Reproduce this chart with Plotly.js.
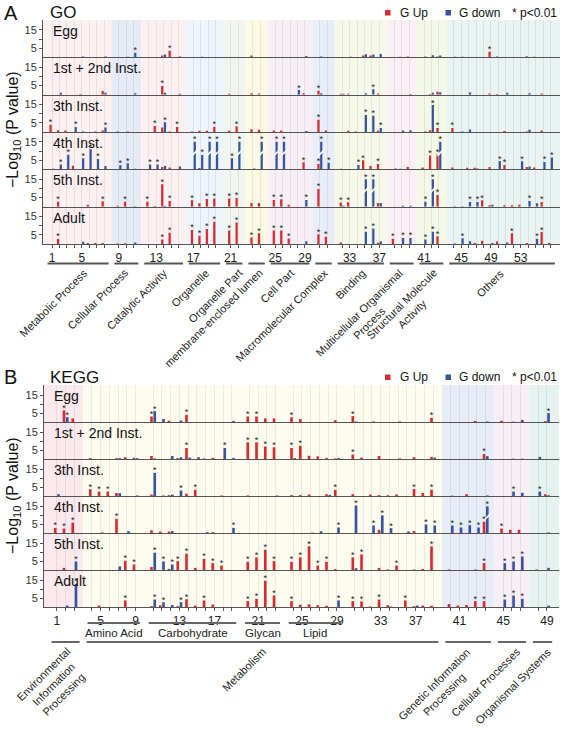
<!DOCTYPE html>
<html><head><meta charset="utf-8">
<script src="https://cdn.plot.ly/plotly-3.0.1.min.js"></script>
<style>html,body{margin:0;padding:0;background:#fff}#chart{width:563px;height:729px}</style>
</head><body><div id="chart"></div>
<script>
// ================= DATA =================
const stages = ['Egg', '1st + 2nd Inst.', '3th Inst.', '4th Inst.', '5th Inst.', 'Adult'];

// ---- GO ----
const goGroupNames = ['Metabolic Process', 'Cellular Process', 'Catalytic Activity', 'Organelle', 'Organelle Part',
  'membrane-enclosed lumen', 'Cell Part', 'Macromolecular Complex', 'Binding',
  'Multicellular Organismal<br>Process', 'Structural Molecule<br>Activity', 'Others'];
const goGroupSizes = [8, 3, 5, 4, 2, 2, 5, 2, 6, 3, 3, 14];
const goTickLabels = [1, 5, 9, 13, 17, 21, 25, 29, 33, 37, 41, 45, 49, 53];

const goUpEgg = [0,0,0,0,0,0,0,0,0,0, 0,0,0,1,3.6,0,0,0,0,0, 0,0,1,0,0,0,0,0,0,0, 0,0,0,0,1,1,0,0,0.3,0.5, 0,0,0.4,0,0,0,0,0,3.1,0.5, 0,0,0,0.6,0.3,0,0];
const goDownEgg = [0,0,0,0,0.5,0,0,0.5,0,0.3, 2.5,0,0,1.5,0,0.5,0,0.3,0,0, 0,0,0,0,0,0,0,0,0.7,0.5, 0,0,0.3,0,1.7,1.6,1.8,0,0,0, 0.5,1.2,1,0.3,0.3,0,0,0,0,0, 0,0,0,0,0,0,0];
const goUp12 = [0,0,0,0,0.3,0,0,2,0,0, 0,0,0,4.7,0,0,0,0,0,0, 0.5,0,0.8,0.6,0,0,0,0,0.8,2.2, 0,0.5,0.5,0,0,0,0.7,0,0,0, 0,0.3,1.6,0,0,0,0,0,0.7,0.3, 0,0,0,0,0,0.6,0];
const goDown12 = [0,1,0,0,0,0,0,1,0,0, 0.8,0,0,1,0,0.5,0,0,0,0, 0,0,0,0,0,0,0,2.5,0,0.8, 0,0.5,0,0,0.8,2.9,0,0,0,0.4, 0,1,1.3,0,0,1.2,0,0,0,0, 1,0,0,0.8,0,0,0];
const goUp3 = [4,1,0.8,0,0,0,0.3,0.8,0.3,0, 0,0,3.3,2.5,0.3,2.7,0.3,0.7,0.7,2.9, 0.7,3.1,1.5,1.2,0.8,0.8,0,0,0,6.7, 0.8,0,0.7,0.3,0,0,0.7,0,0,0, 0,1,2.2,2.2,0,0,0,0,0,0, 0.6,0,0,0.3,0,0.8,0];
const goDown3 = [0,0,0,2.7,0.3,0,0,2.4,0,0.3, 0,0,0,5.3,0,0,0,0,0,0, 0,0,0,0,0,0,0,0,0.5,0, 0,0,0,0,9.3,8.9,2.2,0,0.8,1, 0.3,14.7,0,0,0.3,1.3,0,0,0,0, 0,0,0,1.2,0,0,0];
const goUp4 = [0,0,0,2,0,0,0,0,0,0, 0,0,0,1.2,1,0,0,0.7,0,0, 0,0,0,0,0,0,0,0,3.8,2.9, 0,0.3,0,0,4.9,1.8,2.9,0,0.3,1.2, 1,7.5,8.2,1,0,0.8,0.8,0,1.3,0, 2.4,0,0,1.2,1,0,0];
const goDown4 = [0.3,2.7,8,0,6,11,5.6,1.8,2.2,3.3, 0.3,2.7,2.7,1.8,0,1.5,15,7.8,15,15, 6,15,0.5,15,15,15,0,0,0,15, 3.6,0,0,2.4,0,0,0,0.5,0,0, 0,0,15,0,0,0,0.5,0,0,4.5, 0,0,4.4,1.5,0,4,6.4];
const goUp5 = [0,2.7,0,0,0,1,0,2.9,0.5,2.7, 0,2.7,0.3,12.2,3.1,0,3.5,1.8,4.2,4.5, 4.5,4.7,2,2,3.6,4,1,0,0,9.6, 0,2.2,2.4,0,0,0,2,0,0,0, 0,0,6.4,0,0,0,0,3.5,0.8,0, 0.8,0.7,1,0,0,2.5,0];
const goDown5 = [0,0,0,0,0,0,0,0,0,0, 0.2,0,0,0.4,0,0,0,0,0,0, 0,0,0,0,0,0,0,0,3.6,0, 0,0.5,0,0,15,15,2,0,0.5,0.5, 2.7,15,0,0.2,0.2,2.5,2.5,0,1,0, 0,0,0,3.1,1.8,0,0];
const goUpAdult = [0,2.7,0,0,0,0.6,0.5,0.5,0.3,0.4, 0,0,0,2.5,6.2,0,7.6,4.5,8.2,12.2, 7.3,11.8,3.5,5.8,7.3,7.3,3,0,0,5.3, 4,0.8,0,0,0,0,0.7,2.9,0,0, 0,0,4.2,0,0,0,0.5,1.8,0,1.3, 0,5.8,0,0.6,0,6.5,0.5];
const goDownAdult = [0,0,0,0,1.2,0,0,0,0,0, 0.8,0,0,0,0,0,0,0,0,0, 0,0,0,0,0,0,0,0,1.5,0, 0,0,0,0,6.7,8.5,1.5,0,3.3,3.3, 2.5,6.7,0,0.3,3.1,1.5,0,0,0.5,0, 0.8,0,0,0,2.9,0,0];

// starred (p<0.01) category numbers
const goUpStarEgg = [15, 49];
const goDownStarEgg = [11];
const goUpStar12 = [14, 30];
const goDownStar12 = [28, 36];
const goUpStar3 = [1, 13, 16, 20, 22, 30, 43, 44];
const goDownStar3 = [4, 8, 14, 35, 36, 37, 42];
const goUpStar4 = [29, 30, 35, 37, 42, 43, 51];
const goDownStar4 = [2, 3, 5, 6, 7, 9, 10, 12, 13, 17, 18, 19, 20, 21, 22, 24, 25, 26, 30, 31, 34, 43, 50, 53, 56, 57];
const goUpStar5 = [2, 8, 10, 12, 14, 15, 17, 19, 20, 21, 22, 25, 26, 30, 32, 33, 43, 48, 56];
const goDownStar5 = [29, 35, 36, 41, 42, 46, 47, 54];
const goUpStarAdult = [2, 14, 15, 17, 18, 19, 20, 21, 22, 23, 24, 25, 26, 27, 30, 31, 38, 43, 52, 56];
const goDownStarAdult = [35, 36, 39, 40, 41, 42, 45, 55];

// ---- KEGG ----
const keggBlockSizes = [3, 6, 10, 4, 6, 10, 5, 3, 2];
const keggMainNames = ['Environmental<br>Information<br>Processing', 'Metabolism', 'Genetic Information<br>Processing', 'Cellular Processes', 'Organismal Systems'];
const keggMainFirst = [1, 4, 40, 45, 48];
const keggMainLast = [3, 39, 44, 47, 49];
const keggSubNames = ['Amino Acid', 'Carbohydrate', 'Glycan', 'Lipid'];
const keggSubFirst = [4, 10, 20, 24];
const keggSubLast = [9, 19, 23, 29];
const keggTickLabels = [1, 5, 9, 13, 17, 21, 25, 29, 33, 37, 41, 45, 49];

const kgUpEgg = [0,6.5,2,0,0,0,0,0,0,3.1, 0,0.7,0,4,0,0,0,0,0,3.1, 3.1,2,2,2.7,1.6,0,0,0,1,3.3, 0,0,0,0,0,0,0,0,2.4,0, 0,0,0.6,0,0.7,0,0,0,0.5];
const kgDownEgg = [0,2.7,0,0,0,0,0,0,0,6.1, 1.7,0,0.8,0,0,0,0,0,0.6,0, 0,0,0,0,0,0,0,0,0,0.3, 0,0.3,0,0,0.3,0,0,0,0,0, 0,0,0,0.3,0,0.2,1.2,0,5];
const kgUp12 = [0,0,0,0.5,0,0,0.5,1,0.7,1.7, 0,0,0.5,6.2,0,0.3,0.6,0,0,9.4, 9.4,7,6.6,6.2,7.5,1.8,1.5,0.6,0.3,2.5, 0.8,0,1.7,0,0,0,1,0,1.2,0, 0,0,0,2.8,0,0,0,0,0];
const kgDown12 = [0,0,0,0,0,0,0.5,0,0.5,0.3, 0,1.7,1,0.8,1,0,0,6.2,0.6,0, 0,0,0,0.5,0,0,0,0,0.6,0, 0,0,0,0,0.3,0,0,0,0.8,0, 0,0,0,1.6,0,0.2,0.2,1.2,0];
const kgUp3 = [0,0,0,3.8,2.5,2.5,1.7,0,0,0.8, 0,0.5,0,1.3,3.5,0,0,0.3,0,0.3, 0,0,0,0.5,0.5,0.8,0,1,3.5,1, 0,0.8,0.5,0.4,0.8,0,3.9,1.7,3.5,0, 0,1,0,0,0,0,0,0,1];
const kgDown3 = [1,0,0,0,0,0,1.6,0,0.3,13, 0.3,0.8,3.1,0,0,0,0,0,0,0, 0,0,0.3,0,0,0,0,0.6,0,0, 0,0,0,0,0,0,0,0,0,0.2, 0,0,0,0.3,0,2.5,1.8,2.5,0.4];
const kgUp4 = [2.9,2.5,5.8,0,0,0,8,0,0,1.5, 0.8,0.8,0,0,0,0,0.5,0,0,0, 0,0,0,0,0,0,0,0,0,0, 0,0,1.8,0,0,0,1.1,0,0,0, 0,0,0,6.3,2.5,1.8,1.8,0,0];
const kgDown4 = [0,0,0,0,0.3,0,0,1,0,0, 0,1.1,0,0,0,0.5,0,0,2.9,0, 0,0,0,0,0,0.2,1,0,3.1,15.5, 0,4.2,9.9,2.7,0,0.8,0,4.8,4.2,4.2, 3.1,4.4,3.1,15,0,0,0,0,0.3];
const kgUp5 = [0,1.2,0,0,0,0,0,5.2,3.1,1.7, 0,0.6,5,9.2,1.2,6.3,3.9,2.5,0,4.6, 7.1,11.4,5,4.6,7.1,13.3,2.5,4.6,0.5,7.1, 8.8,0,1.2,0.3,2.5,0,0.3,0.6,13.3,0.3, 0,0,0.3,3.9,0,0,0,0.3,0];
const kgDown5 = [0,0,4.8,0,0,0,2,0,0,9.7, 4.8,3.1,0,0,0,0,0,0,0,0, 0,0,0,0,0,0,0,0,0,1, 0,0,0,0,0,0,0,0,0,0, 0,0,0,0,3.9,4.8,7.6,0,1.2];
const kgUpAdult = [0,0,0,0,0.8,0,0,3.7,0,0.5, 1,0,0.5,4.4,0.8,3.7,1.4,0,0,3.3, 4.6,14.8,6.5,3.3,1.3,1.5,1,0.7,0,3.3, 3.1,0.3,4.2,1,0,3.7,0.5,0.8,0.7,1.7, 0.8,1.1,3.3,3.3,0,0,0,0,0];
const kgDownAdult = [0,0.8,13,0,0,0,0,0,0,4.2, 2.7,1.1,2.7,0,0,0,0,0,0,0, 0,0,0,0,0,0,0,0,3.7,0, 0,0,0,0.3,0,0,0.8,0,0,0, 0,0,0,0,4.2,6.5,4.6,0,0.8];

const kgUpStarEgg = [2, 10, 14, 20, 21, 24, 30, 39];
const kgDownStarEgg = [2, 10, 49];
const kgUpStar12 = [14, 20, 21, 22, 23, 24, 25, 30, 44];
const kgDownStar12 = [18];
const kgUpStar3 = [4, 5, 6, 15, 29, 37, 39];
const kgDownStar3 = [10, 13, 46, 48];
const kgUpStar4 = [1, 2, 3, 7, 44, 45];
const kgDownStar4 = [19, 29, 30, 32, 33, 34, 38, 39, 40, 41, 42, 43, 44];
const kgUpStar5 = [8, 9, 13, 14, 16, 17, 18, 20, 21, 22, 23, 24, 25, 26, 27, 28, 30, 31, 35, 39, 44];
const kgDownStar5 = [3, 10, 11, 12, 45, 46, 47];
const kgUpStarAdult = [8, 14, 16, 20, 21, 22, 23, 24, 30, 31, 33, 36, 43, 44];
const kgDownStarAdult = [3, 10, 11, 13, 29, 45, 46, 47];

const BREAK_VALUE = 15; // bars drawn at 15 are truncated (axis break)

// ================= STYLE =================
const W = 563, H = 729;
const RED = '#d62b2f', BLUE = '#36559f';
const FONT = 'Liberation Sans, Arial, Helvetica, sans-serif';
const goBandColors = ['#fcf0f1', '#e6ebf6', '#fcf0f3', '#edf4fb', '#f1f5f0', '#fcfae4', '#f7eff6', '#e8edf8', '#f6f9ea', '#faeff4', '#f4f8e6', '#e9f3f1'];
const keggBandColors = ['#fbe9ed', '#fdfcee', '#e8ecf7', '#f8eef5', '#e6f2f0'];
// horizontal offset (px) of each rotated label's end from its underline centre
const goLabelEnd = [10, 3, 5, 5.5, 9, 7, 5, 5.5, 6, 1.5, 6.5, 3];
const keggLabelEnd = [6, 4, 3, 9.5, 9.5];
const ROT_FONT = 11, LINE_STEP = 1.3 * 11;
const BARGAP = 0.25, GROUPGAP = 0.2;
const OFF = (1 - BARGAP) / 4;

function positions(sizes) {
  const pos = []; let p = 1;
  sizes.forEach(n => { for (let i = 0; i < n; i++) { pos.push(p); p++; } p++; });
  return pos;
}
const py = v => 1 - v / H;
const px = v => v / W;

const measureCtx = document.createElement('canvas').getContext('2d');
measureCtx.font = ROT_FONT + 'px "Liberation Sans", Arial, sans-serif';
const textW = t => measureCtx.measureText(t).width;

const panels = [
  {
    pos: positions(goGroupSizes), ticks: goTickLabels,
    up: [goUpEgg, goUp12, goUp3, goUp4, goUp5, goUpAdult],
    down: [goDownEgg, goDown12, goDown3, goDown4, goDown5, goDownAdult],
    upStar: [goUpStarEgg, goUpStar12, goUpStar3, goUpStar4, goUpStar5, goUpStarAdult],
    downStar: [goDownStarEgg, goDownStar12, goDownStar3, goDownStar4, goDownStar5, goDownStarAdult],
    dom: [43, 560], range: [-0.21, 69.28], top: 20, rowH: 37.33, yMax: 20.4
  },
  {
    pos: positions(keggBlockSizes), ticks: keggTickLabels,
    up: [kgUpEgg, kgUp12, kgUp3, kgUp4, kgUp5, kgUpAdult],
    down: [kgDownEgg, kgDown12, kgDown3, kgDown4, kgDown5, kgDownAdult],
    upStar: [kgUpStarEgg, kgUpStar12, kgUpStar3, kgUpStar4, kgUpStar5, kgUpStarAdult],
    downStar: [kgDownStarEgg, kgDownStar12, kgDownStar3, kgDownStar4, kgDownStar5, kgDownStarAdult],
    dom: [44, 559], range: [-0.47, 58.38], top: 385, rowH: 37, yMax: 20.8
  }
];
const axisToPx = (P, v) => P.dom[0] + (v - P.range[0]) / (P.range[1] - P.range[0]) * (P.dom[1] - P.dom[0]);

const traces = [];
const layout = {
  width: W, height: H, margin: {l: 0, r: 0, t: 0, b: 0, pad: 0},
  paper_bgcolor: '#ffffff', plot_bgcolor: 'rgba(0,0,0,0)',
  barmode: 'group', bargap: BARGAP, bargroupgap: GROUPGAP,
  showlegend: false, font: {family: FONT, color: '#222'},
  shapes: [], annotations: []
};

panels.forEach((P, pi) => {
  const pos = P.pos;
  const tickText = pos.map((p, i) => P.ticks.includes(i + 1) ? String(i + 1) : '');
  for (let r = 0; r < 6; r++) {
    const k = pi * 6 + r + 1;
    const xa = 'x' + (k === 1 ? '' : k), ya = 'y' + (k === 1 ? '' : k);
    const common = {xaxis: xa, yaxis: ya, hoverinfo: 'skip', showlegend: false};
    traces.push(Object.assign({type: 'bar', x: pos, y: P.up[r], marker: {color: RED}, name: 'G Up'}, common));
    traces.push(Object.assign({type: 'bar', x: pos, y: P.down[r], marker: {color: BLUE}, name: 'G down'}, common));
    const sx = [], sy = [];
    P.upStar[r].forEach(c => { sx.push(pos[c - 1] - OFF); sy.push(P.up[r][c - 1] + 1.0); });
    P.downStar[r].forEach(c => { sx.push(pos[c - 1] + OFF); sy.push(P.down[r][c - 1] + 1.0); });
    traces.push(Object.assign({type: 'scatter', mode: 'text', x: sx, y: sy, text: sx.map(() => '*'),
      textposition: 'middle center', textfont: {size: 9, color: '#222', family: FONT}, cliponaxis: false}, common));
    const bx = [], by = [];
    P.up[r].forEach((v, i) => { if (v === BREAK_VALUE) { bx.push(pos[i] - OFF); by.push(9); } });
    P.down[r].forEach((v, i) => { if (v === BREAK_VALUE) { bx.push(pos[i] + OFF); by.push(9); } });
    if (bx.length) traces.push(Object.assign({type: 'scatter', mode: 'markers', x: bx, y: by,
      marker: {symbol: 'line-ne', size: 6, color: '#fff', line: {color: '#ffffff', width: 1.6}}, cliponaxis: true}, common));

    const topPx = P.top + r * P.rowH, botPx = P.top + (r + 1) * P.rowH;
    layout['xaxis' + (k === 1 ? '' : k)] = {
      domain: [px(P.dom[0]), px(P.dom[1])], range: P.range, anchor: ya,
      showline: true, linecolor: '#555', linewidth: 1,
      tickmode: 'array', tickvals: pos, ticktext: tickText,
      showticklabels: r === 5, ticks: r === 5 ? 'outside' : '', ticklen: 3, tickcolor: '#555', tickwidth: 1,
      showgrid: true, gridcolor: 'rgba(0,0,0,0.07)', gridwidth: 1, zeroline: false, fixedrange: true,
      tickfont: {size: 12, color: '#222', family: FONT}, tickangle: 0
    };
    layout['yaxis' + (k === 1 ? '' : k)] = {
      domain: [py(botPx), py(topPx)], range: [0, P.yMax], anchor: xa,
      showline: true, linecolor: '#555', linewidth: 1,
      tickmode: 'array', tickvals: [5, 10, 15], ticktext: ['5', '', '15'],
      ticks: 'outside', ticklen: 3, tickcolor: '#555', showgrid: false, zeroline: false, fixedrange: true,
      tickfont: {size: 11, color: '#333', family: FONT}
    };
    layout.annotations.push({xref: 'paper', yref: 'paper', x: px(P.dom[0] + 8), y: py(topPx + 11),
      xanchor: 'left', yanchor: 'middle', showarrow: false, text: stages[r],
      font: {size: 14, color: '#111', family: FONT}});
  }
});

// rotated (-45deg) group label whose first line ends near (endX, topY)
function rotatedLabel(text, endX, topY) {
  const lines = text.split('<br>');
  const L1 = textW(lines[0]);
  const ex = endX - 3, ey = topY + 4;            // end of first line's centre line
  const c1x = ex - L1 / 2 * Math.SQRT1_2, c1y = ey + L1 / 2 * Math.SQRT1_2;
  const k = (lines.length - 1) / 2 * LINE_STEP * Math.SQRT1_2;
  layout.annotations.push({xref: 'paper', yref: 'paper', x: px(c1x + k), y: py(c1y + k),
    xanchor: 'center', yanchor: 'middle', textangle: -45, showarrow: false, align: 'center',
    text: text, font: {size: ROT_FONT, color: '#222', family: FONT}});
}

// ---------- GO decorations ----------
(function () {
  const P = panels[0], pos = P.pos, bx = 'x6';
  const yTop = py(P.top), yBot = py(P.top + 6 * P.rowH);
  let c = 1;
  goGroupSizes.forEach((n, g) => {
    const first = c, last = c + n - 1; c += n;
    const x0 = g === 0 ? P.range[0] : pos[first - 1] - 1;
    const x1 = g === goGroupSizes.length - 1 ? P.range[1] : pos[last - 1] + 1;
    layout.shapes.push({type: 'rect', xref: bx, yref: 'paper', x0: x0, x1: x1, y0: yBot, y1: yTop,
      fillcolor: goBandColors[g], line: {width: 0}, layer: 'below'});
    const l0 = pos[first - 1] - 0.6, l1 = pos[last - 1] + 0.6;
    layout.shapes.push({type: 'line', xref: bx, yref: 'paper', x0: l0, x1: l1, y0: py(263.5), y1: py(263.5),
      line: {color: '#555', width: 2}});
    rotatedLabel(goGroupNames[g], axisToPx(P, (l0 + l1) / 2) + goLabelEnd[g], 267);
  });
})();

// ---------- KEGG decorations ----------
(function () {
  const P = panels[1], pos = P.pos, bx = 'x12';
  const yTop = py(P.top), yBot = py(P.top + 6 * P.rowH);
  keggMainNames.forEach((name, g) => {
    const first = keggMainFirst[g], last = keggMainLast[g];
    const x0 = g === 0 ? P.range[0] : pos[first - 1] - 1;
    const x1 = g === keggMainNames.length - 1 ? P.range[1] : pos[last - 1] + 1;
    layout.shapes.push({type: 'rect', xref: bx, yref: 'paper', x0: x0, x1: x1, y0: yBot, y1: yTop,
      fillcolor: keggBandColors[g], line: {width: 0}, layer: 'below'});
    const l0 = pos[first - 1] - 0.6, l1 = pos[last - 1] + 0.6;
    layout.shapes.push({type: 'line', xref: bx, yref: 'paper', x0: l0, x1: l1, y0: py(642), y1: py(642),
      line: {color: '#333', width: 1.5}});
    rotatedLabel(name, axisToPx(P, (l0 + l1) / 2) + keggLabelEnd[g], 646);
  });
  keggSubNames.forEach((name, g) => {
    const l0 = pos[keggSubFirst[g] - 1] - 0.5, l1 = pos[keggSubLast[g] - 1] + 0.5;
    layout.shapes.push({type: 'line', xref: bx, yref: 'paper', x0: l0, x1: l1, y0: py(623), y1: py(623),
      line: {color: '#666', width: 2}});
    layout.annotations.push({xref: bx, yref: 'paper', x: (l0 + l1) / 2, y: py(633),
      xanchor: 'center', yanchor: 'middle', showarrow: false, text: name,
      font: {size: 11.5, color: '#222', family: FONT}});
  });
})();

// ---------- headers, legends, y titles ----------
function header(letter, title, yc) {
  layout.annotations.push({xref: 'paper', yref: 'paper', x: px(2), y: py(yc), xanchor: 'left', yanchor: 'middle',
    showarrow: false, text: letter, font: {size: 20, color: '#111', family: FONT}});
  layout.annotations.push({xref: 'paper', yref: 'paper', x: px(48), y: py(yc), xanchor: 'left', yanchor: 'middle',
    showarrow: false, text: title, font: {size: 17, color: '#111', family: FONT}});
  layout.shapes.push({type: 'rect', xref: 'paper', yref: 'paper', x0: px(385), x1: px(390.5),
    y0: py(yc + 3), y1: py(yc - 2.5), fillcolor: RED, line: {width: 0}});
  layout.shapes.push({type: 'rect', xref: 'paper', yref: 'paper', x0: px(445.5), x1: px(451),
    y0: py(yc + 3), y1: py(yc - 2.5), fillcolor: BLUE, line: {width: 0}});
  [['G Up', 398], ['G down', 457], ['* p<0.01', 510]].forEach(([t, x]) => {
    layout.annotations.push({xref: 'paper', yref: 'paper', x: px(x), y: py(yc), xanchor: 'left', yanchor: 'middle',
      showarrow: false, text: t, font: {size: 12, color: '#111', family: FONT}});
  });
}
header('A', 'GO', 12.5);
header('B', 'KEGG', 377);

[130, 496].forEach(yc => {
  layout.annotations.push({xref: 'paper', yref: 'paper', x: px(13), y: py(yc), xanchor: 'center', yanchor: 'middle',
    textangle: -90, showarrow: false, text: '\u2212Log<sub>10</sub> (P value)',
    font: {size: 16, color: '#111', family: FONT}});
});

Plotly.newPlot('chart', traces, layout, {staticPlot: true, displayModeBar: false});
</script>
</body></html>
